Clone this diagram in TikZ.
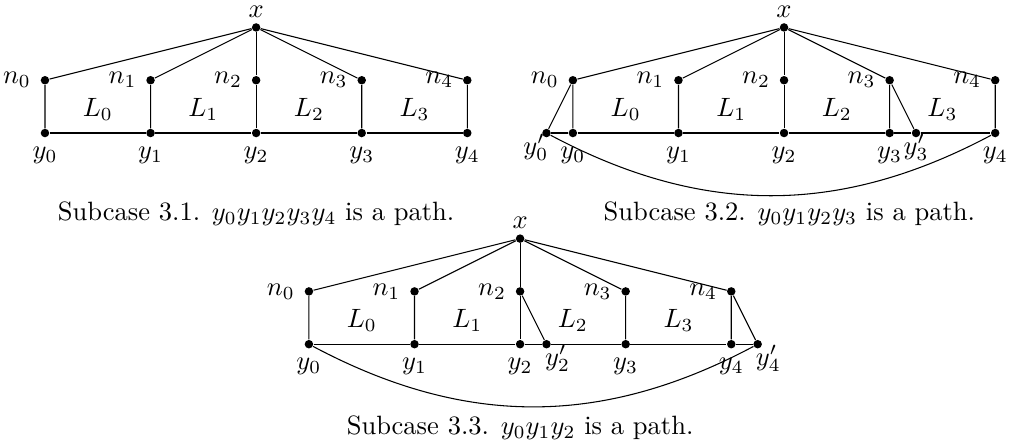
\documentclass[tikz,border=0pt]{standalone}
\usepackage{amsmath, amssymb}
\usetikzlibrary{positioning}

\tikzset{
    dot/.style={circle, fill=black, inner sep=0pt, minimum size=3.2pt},
    toplabel/.style={label={[inner sep=0.8pt, label distance=1pt]above:{$x$}}},
}

\begin{document}
\begin{tikzpicture}[scale=0.7]
    \useasboundingbox (-0.852,-5.85) rectangle (18.28,2.52);

    % Subcase 3.1
    \node[dot, toplabel] (xa) at (4,2) {};
    \foreach \i in {0,...,4} {
        \node[dot, label=left:{$n_{\i}$}] (na\i) at (2*\i,1) {};
        \node[dot, label=below:{$y_{\i}$}] (ya\i) at (2*\i,0) {};
        \draw (xa) -- (na\i) -- (ya\i);
    }
    \draw (ya0) -- (ya1) -- (ya2) -- (ya3) -- (ya4);
    \foreach \i in {0,...,3} \node (La\i) at (2*\i+1,0.45) {$L_{\i}$};
    \node (capa) at (4,-1.53) {Subcase 3.1. $y_0y_1y_2y_3y_4$ is a path.};

    % Subcase 3.2
    \begin{scope}[shift={(10,0)}]
        \node[dot, toplabel] (xb) at (4,2) {};
        \foreach \i in {0,...,4} {
            \node[dot, label=left:{$n_{\i}$}] (nb\i) at (2*\i,1) {};
            \node[dot, label=below:{$y_{\i}$}] (yb\i) at (2*\i,0) {};
            \draw (xb) -- (nb\i) -- (yb\i);
        }
        \node[dot, label={[xshift=-4pt, yshift=4.9pt]below:{$y_0'$}}] (ybp0) at (-0.5,0) {};
        \node[dot, label={[yshift=4.9pt]below:{$y_3'$}}] (ybp3) at (6.5,0) {};
        \draw (ybp0) -- (yb0) -- (yb1) -- (yb2) -- (yb3) -- (ybp3) -- (yb4);
        \draw (nb0) -- (ybp0);
        \draw (nb3) -- (ybp3);
        \draw (ybp0) to[bend right=28] (yb4);
        \foreach \i in {0,...,3} \node (Lb\i) at (2*\i+1,0.45) {$L_{\i}$};
        \node (capb) at (4.1,-1.53) {Subcase 3.2. $y_0y_1y_2y_3$ is a path.};
    \end{scope}

    % Subcase 3.3
    \begin{scope}[shift={(5,-4)}]
        \node[dot, toplabel] (xc) at (4,2) {};
        \foreach \i in {0,...,4} {
            \node[dot, label=left:{$n_{\i}$}] (nc\i) at (2*\i,1) {};
            \node[dot, label=below:{$y_{\i}$}] (yc\i) at (2*\i,0) {};
            \draw (xc) -- (nc\i) -- (yc\i);
        }
        \node[dot, label={[xshift=4.2pt, yshift=4.9pt]below:{$y_2'$}}] (ycp2) at (4.5,0) {};
        \node[dot, label={[xshift=4pt, yshift=4.9pt]below:{$y_4'$}}] (ycp4) at (8.5,0) {};
        \draw (yc0) -- (yc1) -- (yc2) -- (ycp2) -- (yc3) -- (yc4) -- (ycp4);
        \draw (nc2) -- (ycp2);
        \draw (nc4) -- (ycp4);
        \draw (yc0) to[bend right=28] (ycp4);
        \foreach \i in {0,...,3} \node (Lc\i) at (2*\i+1,0.45) {$L_{\i}$};
        \node (capc) at (4,-1.59) {Subcase 3.3. $y_0y_1y_2$ is a path.};
    \end{scope}
\end{tikzpicture}
\end{document}
